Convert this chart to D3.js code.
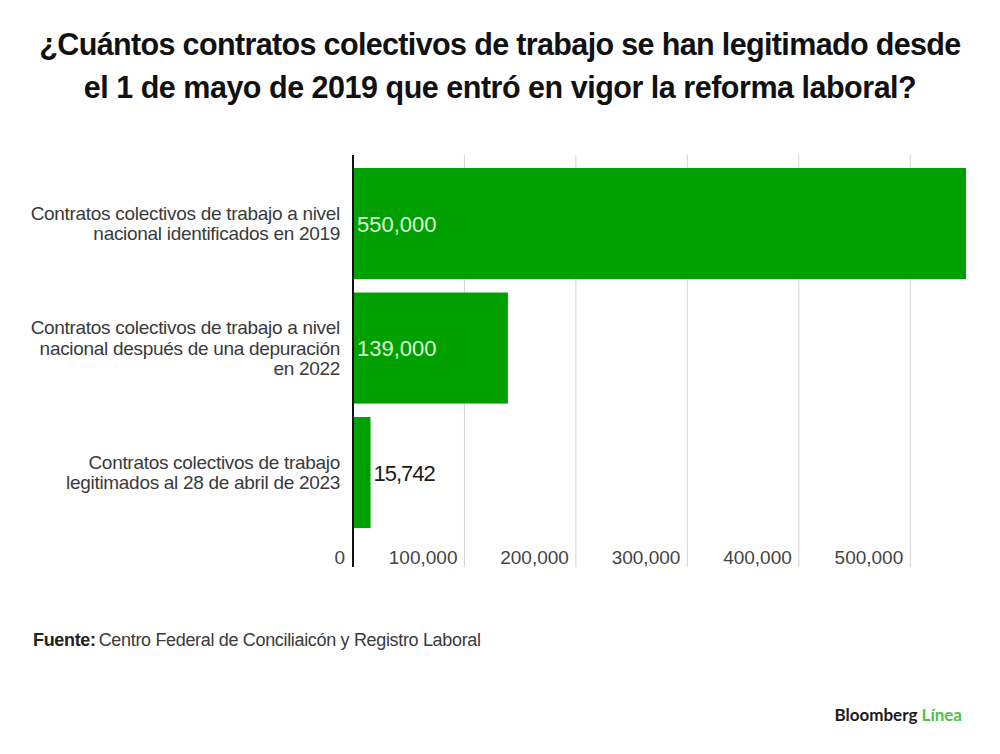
<!DOCTYPE html>
<html>
<head>
<meta charset="utf-8">
<script src="https://cdn.jsdelivr.net/npm/d3@7"></script>
<style>
  body { margin: 0; background: #fff; }
  svg { display: block; font-family: "Liberation Sans", Arial, sans-serif; }
</style>
</head>
<body>
<div id="chart"></div>
<script>
// data
const categories = [
  ["Contratos colectivos de trabajo a nivel", "nacional identificados en 2019"],
  ["Contratos colectivos de trabajo a nivel", "nacional después de una depuración", "en 2022"],
  ["Contratos colectivos de trabajo", "legitimados al 28 de abril de 2023"]
];
const values = [550000, 139000, 15742];
const valueLabels = ["550,000", "139,000", "15,742"];
const ticks = [0, 100000, 200000, 300000, 400000, 500000];
const tickLabels = ["0", "100,000", "200,000", "300,000", "400,000", "500,000"];

const width = 1000;
const height = 754;
const green = "#00a000";

const svg = d3.select("#chart").append("svg")
  .attr("width", width)
  .attr("height", height);

// squeeze text to a measured width (the original uses tight tracking)
let fit = (sel, target) => {
  sel.each(function() {
    let n = this.getNumberOfChars();
    let w = this.getComputedTextLength();
    if (n > 1) d3.select(this).attr("letter-spacing", (target - w) / (n - 1));
  });
};

//------------------------------------------------------------- title
const titleLines = [
  "¿Cuántos contratos colectivos de trabajo se han legitimado desde",
  "el 1 de mayo de 2019 que entró en vigor la reforma laboral?"
];
const titleWidths = [922, 833];
svg.selectAll("text.title")
  .data(titleLines)
  .enter().append("text")
  .attr("class", "title")
  .attr("x", 500)
  .attr("y", (d, i) => 55 + i * 43)
  .attr("text-anchor", "middle")
  .attr("font-size", 30.5)
  .attr("font-weight", "bold")
  .attr("fill", "#111")
  .text(d => d)
  .each(function(d, i) { fit(d3.select(this), titleWidths[i]); });

//------------------------------------------------------------- scales
let x = d3.scaleLinear()
  .domain([0, 550000])
  .range([353, 966]);

let y = d3.scaleBand()
  .domain(d3.range(values.length))
  .range([161.3, 534.8])
  .paddingInner(0.108)
  .paddingOuter(0.054);

//------------------------------------------------------------- gridlines
svg.selectAll("line.grid")
  .data(ticks.slice(1))
  .enter().append("line")
  .attr("class", "grid")
  .attr("x1", d => x(d))
  .attr("x2", d => x(d))
  .attr("y1", 155)
  .attr("y2", 567)
  .attr("stroke", "#d4d4d4")
  .attr("stroke-width", 1);

//------------------------------------------------------------- bars
svg.selectAll("rect.bar")
  .data(values)
  .enter().append("rect")
  .attr("class", "bar")
  .attr("x", x(0))
  .attr("y", (d, i) => y(i))
  .attr("width", d => x(d) - x(0))
  .attr("height", y.bandwidth())
  .attr("fill", green);

// axis line
svg.append("line")
  .attr("x1", x(0)).attr("x2", x(0))
  .attr("y1", 155).attr("y2", 567)
  .attr("stroke", "#111")
  .attr("stroke-width", 2);

//------------------------------------------------------------- value labels
let inside = d => x(d) - x(0) > 120;
svg.selectAll("text.value")
  .data(values)
  .enter().append("text")
  .attr("class", "value")
  .attr("x", d => (inside(d) ? x(0) + 4 : x(d) + 3))
  .attr("y", (d, i) => y(i) + y.bandwidth() / 2 + 8)
  .attr("font-size", 22)
  .attr("fill", d => (inside(d) ? "#dcf8d6" : "#1a1a1a"))
  .attr("letter-spacing", d => (inside(d) ? 0 : -1))
  .text((d, i) => valueLabels[i]);

//------------------------------------------------------------- category labels
const lineH = 20.5;
categories.forEach((lines, i) => {
  let cy = y(i) + y.bandwidth() / 2;
  let t = svg.append("text")
    .attr("class", "cat")
    .attr("text-anchor", "end")
    .attr("font-size", 19)
    .attr("fill", "#3a3a3a")
    .attr("letter-spacing", -0.3);
  t.selectAll("tspan")
    .data(lines)
    .enter().append("tspan")
    .attr("x", 340)
    .attr("y", (d, j) => cy + (j - (lines.length - 1) / 2) * lineH + 6.5)
    .text(d => d);
});

//------------------------------------------------------------- tick labels
svg.selectAll("text.tick")
  .data(ticks)
  .enter().append("text")
  .attr("class", "tick")
  .attr("x", d => (d === 0 ? x(0) - 8 : x(d) - 7))
  .attr("y", 564)
  .attr("text-anchor", "end")
  .attr("font-size", 19)
  .attr("fill", "#444")
  .text((d, i) => tickLabels[i]);

//------------------------------------------------------------- source
let src = svg.append("text")
  .attr("x", 33)
  .attr("y", 646)
  .attr("font-size", 18)
  .attr("fill", "#222");
src.append("tspan").attr("font-weight", "bold").text("Fuente:");
src.append("tspan").attr("dx", 3).attr("fill", "#3a3a3a").text("Centro Federal de Conciliaicón y Registro Laboral");
fit(src, 445);

//------------------------------------------------------------- logo
let logo = svg.append("text")
  .attr("x", 962)
  .attr("y", 721)
  .attr("text-anchor", "end")
  .attr("font-size", 17)
  .attr("font-weight", "bold")
  .attr("font-family", "Lato, sans-serif");
logo.append("tspan").attr("fill", "#1a1a1a").text("Bloomberg ");
logo.append("tspan").attr("fill", "#4fc04f").text("Línea");
</script>
</body>
</html>
